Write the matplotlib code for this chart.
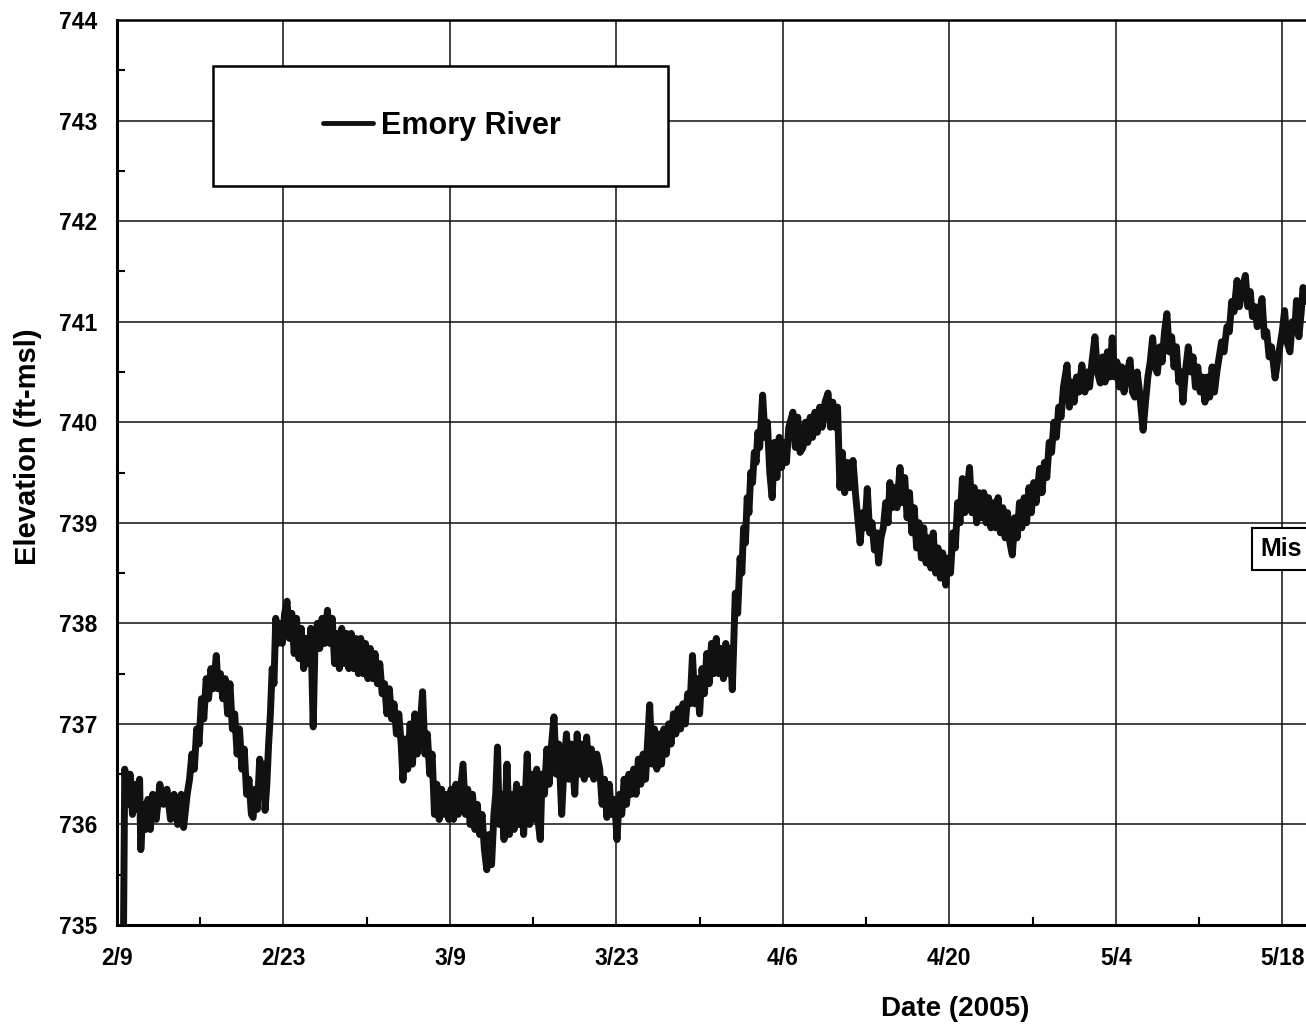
import numpy as np
import matplotlib.pyplot as plt
from matplotlib.patches import Rectangle
from matplotlib.ticker import MultipleLocator

plt.rcParams['font.family'] = ['Liberation Sans', 'DejaVu Sans']
plt.rcParams['font.weight'] = 'bold'

# days after 2/9/2005 and water surface elevation (ft-msl)
days = [
    0.55, 0.65, 0.9, 1.1, 1.3, 1.5, 1.7, 1.9, 2.0, 2.2, 2.4, 2.6, 2.8, 3.0, 3.3, 3.6, 3.9, 4.2, 4.5, 4.8,
    5.1, 5.4, 5.6, 5.9,
    6.1, 6.3, 6.5, 6.7, 6.9, 7.1, 7.3, 7.5, 7.7, 7.9, 8.1, 8.35, 8.5, 8.7, 8.9, 9.1, 9.3, 9.5, 9.7, 9.9,
    10.1, 10.3, 10.5, 10.7, 10.9, 11.1, 11.3, 11.45, 11.6, 11.8, 12.0, 12.2, 12.35, 12.45, 12.6, 12.75,
    12.9, 13.05, 13.2, 13.35, 13.5, 13.7, 13.9, 14.1, 14.3, 14.5,
    14.7, 14.9, 15.1, 15.3, 15.5, 15.7, 15.9, 16.1, 16.3, 16.5, 16.65, 16.85, 17.05, 17.25, 17.45, 17.7,
    17.9, 18.1, 18.3, 18.5, 18.7, 18.9, 19.1, 19.3, 19.5, 19.7, 19.9, 20.1, 20.3, 20.5, 20.7, 20.9, 21.1,
    21.3, 21.5, 21.7, 21.9, 22.1, 22.3, 22.5, 22.7, 22.9, 23.1, 23.3, 23.5, 23.7, 23.9, 24.05, 24.25,
    24.45, 24.65, 24.85, 25.05, 25.25, 25.45, 25.7, 25.9, 26.1, 26.3, 26.5, 26.7, 26.9, 27.1, 27.3, 27.5,
    27.7, 27.9,
    28.1, 28.3, 28.5, 28.7, 28.9, 29.1, 29.3, 29.5, 29.7, 29.9, 30.1, 30.3, 30.5, 30.7, 30.9, 31.1, 31.3,
    31.5, 31.7, 31.85, 32.0, 32.15, 32.35, 32.55, 32.8, 33.0, 33.2, 33.4, 33.6, 33.8, 34.0, 34.2, 34.5,
    34.7, 34.9, 35.1, 35.3, 35.45, 35.6, 35.75, 35.95, 36.15, 36.35, 36.55, 36.75, 36.95, 37.15, 37.4,
    37.6, 37.8, 38.0, 38.2, 38.5, 38.7, 38.9, 39.1, 39.3, 39.5, 39.7, 39.9, 40.1, 40.35, 40.6, 40.8, 41.0,
    41.2, 41.4, 41.6, 41.85, 42.05, 42.25, 42.45, 42.65, 42.85, 43.05, 43.25, 43.45, 43.65, 43.85, 44.05,
    44.25, 44.45, 44.8, 45.0, 45.2, 45.4, 45.6, 45.8, 46.0, 46.2, 46.4, 46.6, 46.8, 47.0, 47.2, 47.4,
    47.6, 47.8, 48.0, 48.2, 48.4, 48.6, 48.8, 49.0, 49.2, 49.4, 49.6, 49.8, 50.0, 50.2, 50.4, 50.6, 50.8,
    51.0, 51.2, 51.4, 51.6, 51.75, 51.9, 52.0,
    52.2, 52.4, 52.55, 52.7, 52.85, 53.0, 53.15, 53.3, 53.45, 53.6, 53.75, 53.9, 54.05, 54.3, 54.5, 54.7,
    54.9, 55.1, 55.3, 55.5, 55.7, 55.9, 56.1, 56.3, 56.5, 56.85, 57.05, 57.25, 57.45, 57.7, 57.9, 58.1,
    58.3, 58.5, 58.7, 58.9, 59.1, 59.3, 59.55, 59.8, 60.0, 60.2, 60.4, 60.6, 60.8, 61.0, 61.2, 61.45,
    61.65, 61.9, 62.1, 62.3, 62.5, 62.7, 62.9, 63.1, 63.3, 63.5, 63.7, 63.9, 64.05, 64.25, 64.45, 64.65,
    64.85, 65.0, 65.2, 65.4, 65.6, 65.85,
    66.05, 66.25, 66.45, 66.65, 66.85, 67.05, 67.25, 67.45, 67.65, 67.85, 68.05, 68.25, 68.45, 68.65,
    68.85, 69.05, 69.25, 69.45, 69.7, 69.9, 70.1, 70.3, 70.5, 70.7, 70.9, 71.1, 71.3, 71.5, 71.7, 71.9,
    72.1, 72.3, 72.5, 72.7, 72.9, 73.1, 73.3, 73.5, 73.7, 73.9, 74.1, 74.3, 74.5, 74.7, 74.9, 75.1, 75.3,
    75.5, 75.7, 75.9, 76.1, 76.3, 76.5, 76.7, 76.9, 77.1, 77.3, 77.6, 77.8, 78.0, 78.2, 78.4, 78.6, 78.8,
    79.0, 79.2, 79.4, 79.6, 79.9,
    80.1, 80.3, 80.5, 80.7, 80.9, 81.15, 81.4, 81.6, 81.8, 82.0, 82.25, 82.45, 82.7, 82.9, 83.1, 83.3,
    83.5, 83.7, 83.9, 84.1, 84.3, 84.5, 84.7, 84.95, 85.2, 85.4, 85.6, 85.8, 86.0, 86.3, 86.5, 86.7, 86.9,
    87.1, 87.3, 87.5, 87.7, 87.9, 88.1, 88.3, 88.5, 88.7, 88.9, 89.1, 89.3, 89.5, 89.65, 89.85, 90.1,
    90.3, 90.5, 90.7, 90.9, 91.1, 91.3, 91.5, 91.7, 91.9, 92.1, 92.3, 92.5, 92.7, 92.9, 93.1, 93.35,
    93.55, 93.75, 93.95, 94.2, 94.4, 94.6, 94.9, 95.1, 95.3, 95.5, 95.7, 95.9, 96.1, 96.3, 96.5, 96.7,
    96.9, 97.1, 97.4, 97.6, 97.8, 98.0, 98.2, 98.4, 98.65, 98.85, 99.05, 99.2, 99.4, 99.6, 99.75, 100.0,
]
elev = [
    735.0, 736.55, 736.2, 736.5, 736.1, 736.4, 736.15, 736.45, 735.75, 736.2, 735.95, 736.25, 735.95,
    736.3, 736.05, 736.4, 736.2, 736.35, 736.05, 736.3, 736.0, 736.3, 735.97, 736.3,
    736.45, 736.7, 736.55, 736.95, 736.8, 737.25, 737.05, 737.45, 737.25, 737.55, 737.35, 737.68, 737.35,
    737.5, 737.25, 737.45, 737.1, 737.4, 736.95, 737.1, 736.7, 736.95, 736.55, 736.75, 736.3, 736.45,
    736.1, 736.07, 736.35, 736.15, 736.65, 736.3, 736.6, 736.14, 736.4, 736.8, 737.1, 737.55, 737.4,
    738.05, 737.8, 738.0, 737.8, 738.1, 738.22, 737.85,
    738.1, 737.7, 738.05, 737.65, 737.95, 737.55, 737.85, 737.6, 737.95, 736.97, 737.8, 738.0, 737.75,
    738.05, 737.8, 738.13, 737.8, 738.05, 737.6, 737.9, 737.55, 737.95, 737.6, 737.9, 737.55, 737.9,
    737.55, 737.85, 737.5, 737.85, 737.5, 737.8, 737.45, 737.75, 737.45, 737.7, 737.4, 737.6, 737.3,
    737.4, 737.1, 737.35, 737.05, 737.2, 736.9, 737.1, 736.8, 736.44, 736.85, 736.55, 737.0, 736.6,
    737.1, 736.7, 736.9, 737.32, 736.7, 736.9, 736.5, 736.7, 736.1, 736.4, 736.05, 736.35, 736.1, 736.3,
    736.05,
    736.35, 736.05, 736.4, 736.1, 736.35, 736.6, 736.1, 736.35, 736.0, 736.3, 735.95, 736.2, 735.9,
    736.1, 735.75, 735.55, 735.9, 735.6, 736.1, 736.3, 736.77, 736.0, 736.3, 735.85, 736.6, 735.9, 736.3,
    735.95, 736.4, 736.0, 736.35, 735.9, 736.7, 736.0, 736.5, 736.05, 736.55, 736.0, 735.85, 736.5,
    736.3, 736.75, 736.4, 736.8, 737.07, 736.5, 736.8, 736.1, 736.6, 736.9, 736.45, 736.8, 736.3, 736.9,
    736.5, 736.8, 736.45, 736.87, 736.5, 736.75, 736.45, 736.7, 736.55, 736.2, 736.45, 736.07, 736.4,
    736.1, 736.25, 735.85, 736.3, 736.1, 736.45, 736.2, 736.5, 736.3, 736.55, 736.3, 736.65, 736.4,
    736.7, 736.45, 737.19, 736.6, 736.95, 736.55, 736.9, 736.6, 736.95, 736.7, 737.0, 736.8, 737.1,
    736.9, 737.15, 736.95, 737.2, 737.0, 737.3, 737.2, 737.68, 737.2, 737.45, 737.1, 737.55, 737.3,
    737.7, 737.4, 737.8, 737.5, 737.85, 737.5, 737.75, 737.45, 737.8, 737.5, 737.75, 737.34, 737.9,
    738.3,
    738.1, 738.65, 738.5, 738.95, 738.8, 739.25, 739.1, 739.5, 739.4, 739.7, 739.6, 739.9, 739.75,
    740.27, 739.85, 740.0, 739.5, 739.25, 739.8, 739.45, 739.85, 739.55, 739.8, 739.6, 739.95, 740.1,
    739.75, 740.05, 739.7, 739.75, 740.0, 739.8, 740.05, 739.85, 740.1, 739.9, 740.15, 739.95, 740.2,
    740.29, 739.95, 740.2, 739.95, 740.15, 739.35, 739.7, 739.3, 739.6, 739.35, 739.62, 739.3, 739.05,
    738.8, 739.1, 738.95, 739.34, 738.9, 739.0, 738.73, 738.9, 738.6, 738.85, 738.95, 739.2, 739.0,
    739.4, 739.15, 739.35, 739.15, 739.55,
    739.2, 739.45, 739.05, 739.3, 738.9, 739.15, 738.75, 739.0, 738.65, 738.95, 738.6, 738.85, 738.55,
    738.9, 738.5, 738.75, 738.45, 738.7, 738.38, 738.65, 738.5, 738.9, 738.75, 739.2, 739.0, 739.44,
    739.1, 739.3, 739.55, 739.1, 739.35, 739.0, 739.3, 739.05, 739.3, 739.0, 739.25, 738.95, 739.2,
    738.95, 739.25, 738.9, 739.15, 738.85, 739.1, 738.8, 738.68, 739.05, 738.85, 739.2, 738.95, 739.25,
    739.0, 739.35, 739.1, 739.4, 739.2, 739.54, 739.3, 739.6, 739.45, 739.8, 739.7, 740.0, 739.85,
    740.15, 740.05, 740.35, 740.57,
    740.15, 740.4, 740.2, 740.45, 740.3, 740.57, 740.3, 740.5, 740.35, 740.6, 740.85, 740.5, 740.39,
    740.65, 740.4, 740.7, 740.45, 740.84, 740.45, 740.6, 740.35, 740.55, 740.3, 740.5, 740.62, 740.3,
    740.25, 740.5, 740.3, 739.92, 740.2, 740.45, 740.6, 740.84, 740.55, 740.49, 740.75, 740.6, 740.9,
    741.08, 740.7, 740.85, 740.55, 740.75, 740.4, 740.5, 740.2, 740.5, 740.75, 740.5, 740.65, 740.35,
    740.55, 740.3, 740.45, 740.2, 740.45, 740.25, 740.55, 740.3, 740.5, 740.65, 740.8, 740.7, 740.95,
    740.9, 741.2, 741.1, 741.41, 741.15, 741.3, 741.46, 741.15, 741.3, 741.05, 741.15, 740.95, 741.1,
    741.23, 740.85, 740.9, 740.65, 740.75, 740.44, 740.6, 740.75, 740.9, 741.11, 740.8, 740.7, 741.0,
    740.9, 741.21, 740.85, 741.1, 741.34, 741.2,
]

tick_days = [0, 14, 28, 42, 56, 70, 84, 98]
tick_labels = ['2/9', '2/23', '3/9', '3/23', '4/6', '4/20', '5/4', '5/18']

fig = plt.figure(figsize=(13.06, 10.27), dpi=100)
ax = fig.add_axes([0.0896, 0.0993, 0.9104, 0.8812])

ax.plot(days, elev, color='#111111', linewidth=5, solid_joinstyle='round',
        solid_capstyle='round', label='Emory River', zorder=3)

ax.set_xlim(0, 100)
ax.set_ylim(735, 744)
ax.set_xticks(tick_days)
ax.set_xticklabels(tick_labels)
ax.xaxis.set_minor_locator(MultipleLocator(7))
ax.yaxis.set_major_locator(MultipleLocator(1))
ax.yaxis.set_minor_locator(MultipleLocator(0.5))

ax.grid(True, which='major', color='#111111', linewidth=1.1)
ax.set_axisbelow(True)

ax.tick_params(axis='both', which='both', direction='in', colors='black')
ax.tick_params(axis='both', which='major', length=0, labelsize=16.5)
ax.tick_params(axis='both', which='minor', length=6, width=1.5)
ax.tick_params(axis='y', which='major', pad=14)
ax.tick_params(axis='x', which='major', pad=16)
for lab in ax.get_xticklabels() + ax.get_yticklabels():
    lab.set_fontweight('bold')

ax.spines['right'].set_visible(False)
ax.spines['left'].set_linewidth(2.2)
ax.spines['bottom'].set_linewidth(2.2)
ax.spines['top'].set_linewidth(1.8)

ax.set_xlabel('Date (2005)', fontsize=20, fontweight='bold')
ax.xaxis.set_label_coords(0.705, -0.078)
ax.set_ylabel('Elevation (ft-msl)', fontsize=21, fontweight='bold')
ax.yaxis.set_label_coords(-0.0749, 0.528)
ax.yaxis.label.set_va('center')

# legend box
ax.add_patch(Rectangle((0.0807, 0.8166), 0.3827, 0.1326, transform=ax.transAxes,
                       facecolor='white', edgecolor='black', linewidth=1.8, zorder=5))
leg = ax.legend(loc='center', bbox_to_anchor=(0.2733, 0.883), frameon=False,
                handlelength=1.63, handletextpad=0.25,
                prop={'size': 22, 'weight': 'bold'})
leg.set_zorder(6)
for h in leg.get_lines():
    h.set_linewidth(3.5)

# cut-off label at the right edge
ax.add_patch(Rectangle((0.9546, 0.3923), 0.08, 0.0464, transform=ax.transAxes,
                       facecolor='white', edgecolor='black', linewidth=1.5,
                       clip_on=False, zorder=5))
ax.text(0.9613, 0.4155, 'Mis', transform=ax.transAxes, fontsize=18, fontweight='bold',
        ha='left', va='center', zorder=6, clip_on=False)

fig.savefig('out.png', dpi=100)
